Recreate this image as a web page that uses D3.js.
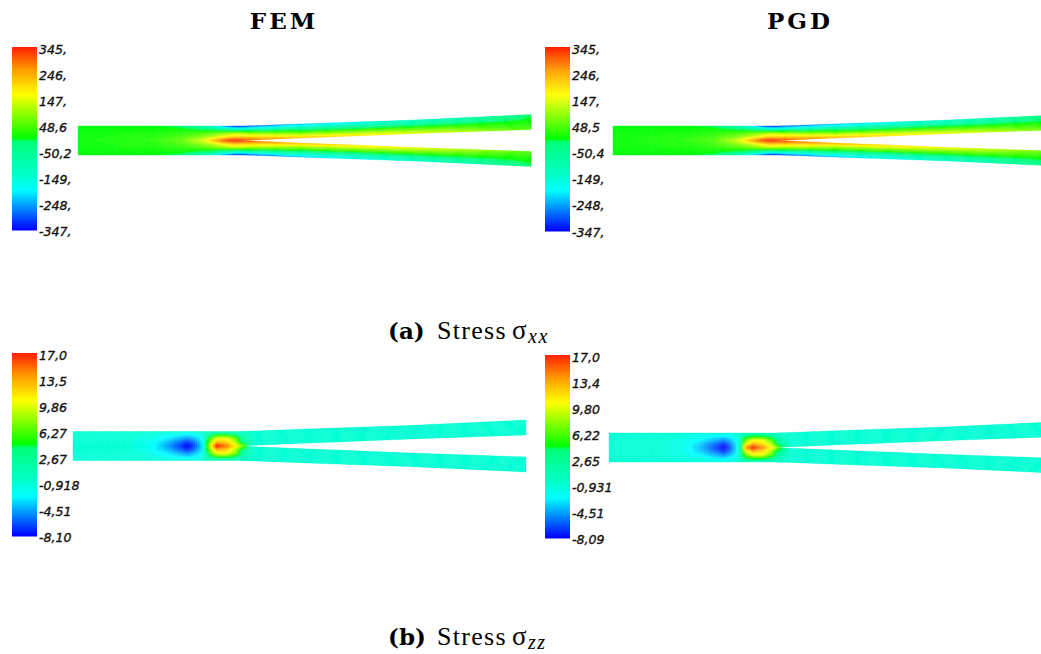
<!DOCTYPE html>
<html><head><meta charset="utf-8">
<script src="https://cdnjs.cloudflare.com/ajax/libs/d3/7.8.5/d3.min.js"></script>
<style>html,body{margin:0;padding:0;background:#fff;overflow:hidden}svg{display:block}</style>
</head><body><div id="c"></div>
<script>
// ---------- data ----------
const labelsXxFem = ["345,","246,","147,","48,6","-50,2","-149,","-248,","-347,"];
const labelsXxPgd = ["345,","246,","147,","48,5","-50,4","-149,","-248,","-347,"];
const labelsZzFem = ["17,0","13,5","9,86","6,27","2,67","-0,918","-4,51","-8,10"];
const labelsZzPgd = ["17,0","13,4","9,80","6,22","2,65","-0,931","-4,51","-8,09"];
// beam outline: distance from the mid-plane, in half-thicknesses, by position along the beam (0-100)
const geomStations = [0,30,36,40,49,60,74,87,100];
const outerOffset = [1,1,1.0,1.03,1.14,1.26,1.41,1.6,1.79];
const innerOffset = [0,0,0,0.05,0.17,0.3,0.48,0.62,0.76];
// through-thickness sample positions (0 outer surface, 1 crack plane)
const thickness = [0,0.25,0.5,0.75,1];
// stress sxx, rows by thickness, columns by station
const xxStations = [0,16,22.5,27,30,33,35,40,49,60,71,82,93,100];
const xxFem = [
 [2,0,-15,-80,-170,-290,-340,-300,-240,-200,-150,-110,-50,-10],
 [2,3,8,-10,-30,-70,-100,-110,-120,-110,-85,-65,-28,-3],
 [2,10,22,40,60,90,110,70,10,5,5,3,5,6],
 [2,15,40,80,120,180,210,170,110,100,85,70,35,20],
 [2,22,60,130,230,330,345,280,230,200,165,130,80,50]];
const xxPgd = [
 [2,0,-15,-85,-180,-300,-345,-300,-245,-200,-150,-110,-45,-10],
 [2,3,8,-10,-30,-70,-100,-110,-120,-110,-85,-65,-25,-3],
 [2,9,20,38,58,88,110,75,12,5,5,3,5,6],
 [2,14,38,76,115,175,210,180,120,105,85,70,40,20],
 [2,20,55,125,220,320,345,295,240,205,170,135,85,50]];
// stress szz
const zzStations = [0,12,17,21,25.5,28,29,30,31.8,34,36,37.5,40,100];
const zzFem = [
 [-0.9,-0.9,-1,-1.1,-1.2,-1,-0.6,-0.2,0,-0.1,-0.4,-0.7,-0.9,-0.9],
 [-0.9,-1,-1.3,-2,-3,-2,-0.8,2,5,5,3,0.5,-0.9,-0.9],
 [-0.9,-1,-1.7,-3,-5,-3,-1,5,10,10.5,7,2,-0.9,-0.9],
 [-1,-1,-2,-4,-7,-4,-1,6.5,13,12,8.5,3,-0.9,-0.9],
 [-1,-1,-2,-4.5,-8.1,-4.5,-1,8,17,14.5,11,7,-0.9,-0.9]];
const zzPgd = [
 [-0.9,-0.9,-1,-1.1,-1.2,-1,-0.6,-0.2,0,-0.1,-0.4,-0.7,-0.9,-0.9],
 [-0.9,-1,-1.3,-2,-3,-1.8,-0.2,3,5,4.6,2.5,0.4,-0.9,-0.9],
 [-0.9,-1,-1.7,-3,-5,-2.6,0,6.5,10,10,6.2,1.6,-0.9,-0.9],
 [-1,-1,-2,-4,-7,-3.4,0.5,9,13,11.6,8,2.6,-0.9,-0.9],
 [-1,-1,-2,-4.5,-8.09,-3.8,1,13,17,14,10.5,6.5,-0.9,-0.9]];
// colour table of the colour bar: position (0-1) and colour
const rampStops = [0,0.22,0.3,0.485,0.5,0.74,0.87,1];
const rampColors = ["#0000ff","#00ffff","#00ffcc","#00ff78","#00ff00","#ffff00","#ffa000","#ff2000"];
// titles
const columnTitles = ["FEM","PGD"];

// ---------- drawing ----------
const W=1041,H=654;
const svg=d3.select("#c").append("svg").attr("width",W).attr("height",H);
const defs=svg.append("defs");
defs.append("filter").attr("id","soft").attr("x","-5%").attr("y","-5%").attr("width","110%").attr("height","110%")
  .append("feGaussianBlur").attr("stdDeviation",0.5);
const ramp=d3.scaleLinear().domain(rampStops).range(rampColors).interpolate(d3.interpolateRgb).clamp(true);
const panels=[
 {bx:12,by:[47,230],lab:labelsXxFem,lo:-347,hi:345,st:xxStations,f:xxFem,x:[78,531],c:140.5},
 {bx:545,by:[47,231],lab:labelsXxPgd,lo:-347,hi:345,st:xxStations,f:xxPgd,x:[613,1066],c:140.5},
 {bx:12,by:[353,536],lab:labelsZzFem,lo:-8.10,hi:17,st:zzStations,f:zzFem,x:[73,526],c:446},
 {bx:545,by:[355,538],lab:labelsZzPgd,lo:-8.09,hi:17,st:zzStations,f:zzPgd,x:[609,1062],c:447.5}
];
const barW=25;
panels.forEach(p=>{
  const g=svg.append("g");
  const barY=d3.scaleLinear().domain([0,1]).range([p.by[1],p.by[0]]);
  const steps=d3.range(0,1,1/183);
  g.append("g").selectAll("rect").data(steps).join("rect")
    .attr("x",p.bx).attr("width",barW)
    .attr("y",d=>barY(d+1/183)).attr("height",d=>barY(d)-barY(d+1/183)+0.5)
    .attr("fill",d=>ramp(d));
  const labY=d3.scalePoint().domain(p.lab).range([p.by[0]+2,p.by[1]+1]);
  g.append("g").selectAll("text").data(p.lab).join("text")
    .attr("x",p.bx+27).attr("y",d=>labY(d)).attr("dy","0.36em")
    .attr("font-family","DejaVu Sans").attr("font-style","italic").attr("font-size",12.6)
    .attr("stroke","#111").attr("stroke-width",0.35).attr("fill","#111").text(d=>d);
  const sx=d3.scaleLinear().domain([0,100]).range(p.x);
  const sy=d3.scaleLinear().domain([-3,3]).range([p.c+43.5,p.c-43.5]);
  const outer=d3.scaleLinear().domain(geomStations).range(outerOffset);
  const inner=d3.scaleLinear().domain(geomStations).range(innerOffset);
  const rows=p.f.map(r=>d3.scaleLinear().domain(p.st).range(r));
  const norm=d3.scaleLinear().domain([p.lo,p.hi]).range([0,1]);
  const value=(u,t)=>d3.scaleLinear().domain(thickness).range(rows.map(r=>r(u)))(t);
  const cells=[];
  const du=0.5,dt=1/14;
  d3.range(0,100,du).forEach(u=>{
    if(sx(u)>W+2) return;
    d3.range(0,1-1e-6,dt).forEach(t=>{
      [1,-1].forEach(s=>{cells.push({u,t,s});});
    });
  });
  const yAt=(u,t,s)=>sy(s*(outer(u)+(inner(u)-outer(u))*t));
  const pathOf=d=>{const u1=d.u+du,t1=d.t+dt;
    return `M${sx(d.u)},${yAt(d.u,d.t,d.s)}L${sx(u1)},${yAt(u1,d.t,d.s)}L${sx(u1)},${yAt(u1,t1,d.s)}L${sx(d.u)},${yAt(d.u,t1,d.s)}Z`;};
  const colorOf=d=>ramp(norm(value(d.u+du/2,d.t+dt/2)));
  g.append("g").attr("filter","url(#soft)").selectAll("path").data(cells).join("path")
    .attr("d",pathOf).attr("fill",colorOf).attr("stroke",colorOf).attr("stroke-width",0.4);
});
const titleX=d3.scalePoint().domain(columnTitles).range([284,800]);
svg.selectAll("text.title").data(columnTitles).join("text").attr("class","title")
  .attr("x",d=>titleX(d)).attr("y",29).attr("text-anchor","middle")
  .attr("font-family","DejaVu Serif").attr("font-weight","bold").attr("font-size",23).attr("letter-spacing",3).text(d=>d);
function caption(letter,sub,x,y){
  const t=(s,dx,dy,size,extra)=>{const e=svg.append("text").attr("x",x+dx).attr("y",y+dy)
    .attr("font-family","Liberation Serif").attr("font-size",size).text(s);
    Object.entries(extra||{}).forEach(([k,v])=>e.attr(k,v));};
  t("("+letter+")",0,0,23,{"font-weight":"bold","font-family":"DejaVu Serif"});
  t("Stress",49,0,26,{"letter-spacing":1.3});
  t("σ",124,0,27,{});
  t(sub,140,4,20,{"font-style":"italic","letter-spacing":1.5});
}
caption("a","xx",388,339);
caption("b","zz",388,645);
</script></body></html>
